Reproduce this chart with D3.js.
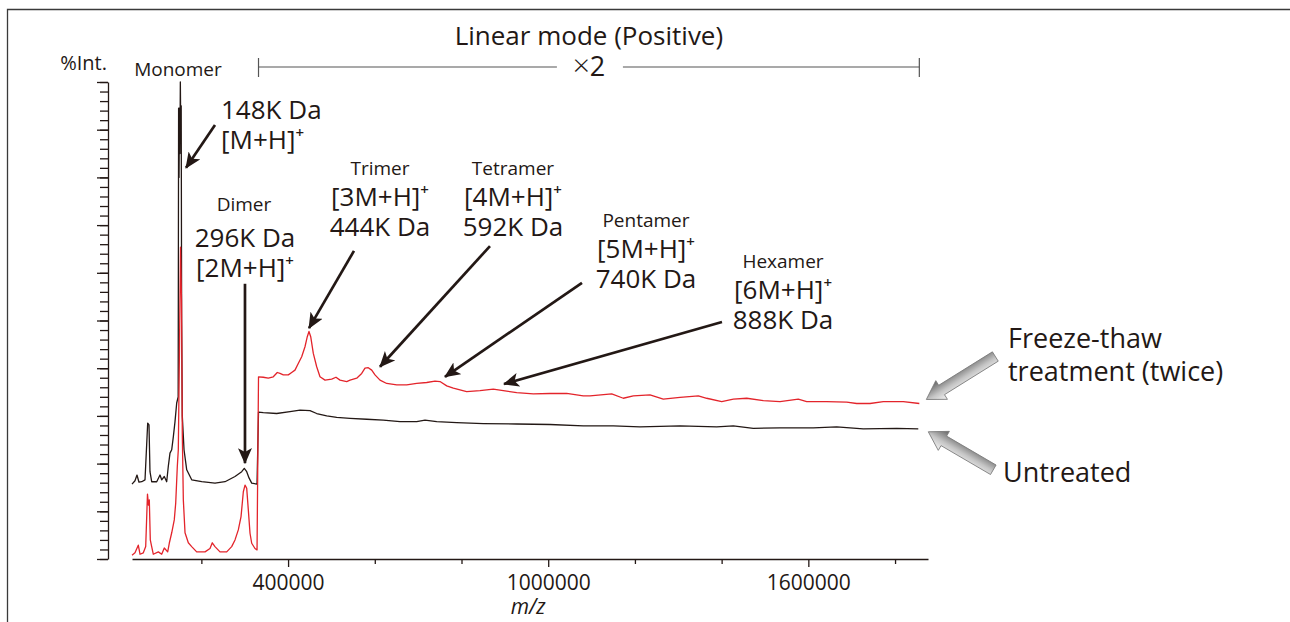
<!DOCTYPE html>
<html lang="en">
<head>
<meta charset="UTF-8">
<title>Linear mode spectrum - freeze-thaw aggregates</title>
<script src="https://cdn.jsdelivr.net/npm/d3@7"></script>
<style>
  body { margin: 0; background: #fff; }
  svg text { font-family: "Open Sans", "Noto Sans", sans-serif; fill: #231815; }
</style>
</head>
<body>
<svg id="chart" width="1290" height="622"></svg>
<script>
// spectra: [m/z, %Int.]  (region after the step is shown x2)
const untreated = [
  [40000,15.7],[46900,16.4],[51500,17.6],[56100,16.1],[62400,16.2],[70000,16.6],[76200,28.5],[79200,28.1],
  [81500,18.3],[85400,16.2],[97000,16.2],[104600,17.6],[108500,16.6],[114500,17.3],[120000,16.2],[123700,19.4],
  [127600,22.2],[131600,22.9],[135300,25.6],[139200,28.8],[143100,32.7],[146500,34.0],[147500,94.5],[148500,80.0],
  [149500,94.5],[150500,85.0],[151500,100],[152500,90.0],[153500,95.0],[154500,50.0],[156000,30.0],
  [160000,22.9],[166200,18.7],[177700,16.6],[200800,16.2],[231400,15.9],[254500,16.2],
  [277600,17.3],[293000,18.3],[299000,19.0],[304600,18.3],[309900,17.0],[316100,15.9],[328400,15.7],[331800,30.8],
  [342800,30.7],[373700,30.5],[404400,30.9],[427500,31.2],[450600,31.1],[466000,30.5],[489100,30.0],[512200,29.7],
  [542900,29.5],[581400,29.3],[619600,29.1],[658100,28.8],[696700,28.8],[715800,29.1],[742800,28.8],[788900,28.6],
  [850300,28.4],[927300,28.3],[1004100,28.2],[1080900,27.9],[1150100,27.9],[1211700,27.7],[1304000,27.9],
  [1388600,27.7],[1426900,27.9],[1473000,27.4],[1534600,27.5],[1611400,27.5],[1665400,27.7],[1726700,27.3],
  [1803800,27.4],[1853600,27.3]
];
const freezeThaw = [
  [40000,0.8],[46900,1.3],[54500,2.9],[58500,1.0],[66100,1.3],[71600,2.6],[75700,13.6],[78000,11.3],[79900,12.4],
  [82200,4.0],[85400,2.6],[89100,1.0],[100700,1.5],[108500,1.0],[114500,2.3],[122300,1.5],[126000,3.3],[131600,5.5],
  [137500,8.2],[140800,11.7],[144500,19.4],[146800,22.9],[149500,43.8],[151900,65.4],[154200,54.3],[156000,26.4],
  [158400,12.4],[162300,5.5],[169900,3.4],[177700,2.6],[189200,1.5],[208400,1.5],[219900,2.2],[225200,3.4],
  [231400,2.6],[243000,1.5],[258400,1.5],[269900,2.6],[277600,4.0],[285200,6.1],[291500,8.9],[296800,14.1],
  [300700,15.5],[304600,14.8],[308300,10.3],[312200,5.4],[316100,3.3],[323700,2.2],[328400,1.9],[331800,38.2],
  [342800,38.1],[354400,37.9],[365900,38.2],[375100,39.1],[381300,38.9],[389000,38.6],[400500,38.6],[408300,39.1],
  [415900,39.6],[423500,41.0],[431400,42.4],[439000,44.5],[444300,46.6],[448200,47.7],[452200,46.6],[458200,43.1],
  [466000,40.3],[473600,38.2],[485200,37.5],[500600,37.7],[510500,38.1],[519800,37.5],[535200,37.2],[542900,37.5],
  [558300,37.9],[569800,38.9],[577400,40.0],[585000,40.1],[592900,39.6],[600500,38.6],[612000,37.5],[627500,36.8],
  [650600,36.5],[673600,36.5],[696700,36.8],[719700,37.0],[738900,37.3],[750400,37.2],[765900,36.3],[781100,35.8],
  [811900,35.1],[842600,35.3],[873300,35.6],[896400,35.3],[927300,34.9],[965600,34.6],[1004100,34.7],[1042600,34.7],
  [1080900,34.2],[1096400,34.2],[1146500,34.6],[1173200,33.7],[1196300,34.2],[1234800,34.4],[1265400,33.5],
  [1304000,33.9],[1346200,34.2],[1365600,33.7],[1400200,33.0],[1427000,33.5],[1457900,33.7],[1496200,33.2],
  [1534600,33.0],[1576800,33.5],[1596200,33.0],[1642400,33.0],[1688500,32.9],[1711600,32.6],[1742300,32.6],
  [1773000,33.0],[1819100,33.0],[1856000,32.6]
];

// peak annotations: label anchor (m/z, %Int. of first baseline), arrow tail and tip
const peakNames = ["Monomer", "Dimer", "Trimer", "Tetramer", "Pentamer", "Hexamer"];
const peakLines = [
  [["148K Da"], ["[M+H]", "+"]],
  [["296K Da"], ["[2M+H]", "+"]],
  [["[3M+H]", "+"], ["444K Da"]],
  [["[4M+H]", "+"], ["592K Da"]],
  [["[5M+H]", "+"], ["740K Da"]],
  [["[6M+H]", "+"], ["888K Da"]]
];
const peakNameAt = [[146100,101.3],[298300,73.0],[612000,80.5],[918800,80.5],[1225500,69.6],[1541600,61.0]];
const peakTextAt = [[245300,92.2],[300600,65.4],[612000,74.0],[918800,74.0],[1225500,63.1],[1541600,54.5]];
const arrowTail = [[231400,91.0],[300600,57.7],[552000,64.6],[865700,65.6],[1077900,57.9],[1400800,49.7]];
const arrowTip  = [[164600,82.0],[300600,20.1],[448300,48.4],[612000,40.3],[761900,38.2],[898000,36.7]];

const xMinor = [200000, 600000, 800000, 1200000, 1400000, 1800000];
const xMajor = [400000, 1000000, 1600000];
const yMinor = d3.range(0, 101, 2);
const yMajor = d3.range(0, 101, 10);

const ink = "#231815", red = "#e3242b";
const svg = d3.select("#chart");

const x = d3.scaleLinear().domain([40000, 1876000]).range([132, 928]);
const y = d3.scaleLinear().domain([0, 100]).range([559, 82]);

// outer frame (open to the right and bottom)
svg.append("path").attr("d", "M1290,9.5H7.5V622").attr("fill", "none").attr("stroke", "#3a3a3a").attr("stroke-width", 1.3);

// y axis: ticks only, no labels
svg.append("g").attr("transform", "translate(108,0)")
  .call(d3.axisLeft(y).tickValues(yMinor).tickSize(8).tickSizeOuter(0).tickFormat(""));
const yAxisMajor = svg.append("g").attr("transform", "translate(108,0)")
  .call(d3.axisLeft(y).tickValues(yMajor).tickSize(11).tickSizeOuter(0).tickFormat(""));
yAxisMajor.select(".domain").remove();

// x axis
svg.append("g").attr("transform", "translate(0,559)")
  .call(d3.axisBottom(x).tickValues(xMinor).tickSize(5).tickSizeOuter(0).tickFormat(""));
const xAxisMajor = svg.append("g").attr("transform", "translate(0,559)")
  .call(d3.axisBottom(x).tickValues(xMajor).tickSize(8).tickSizeOuter(0).tickPadding(8).tickFormat(d3.format("d")));
xAxisMajor.select(".domain").remove();
svg.selectAll(".domain, .tick line").attr("stroke", ink).attr("stroke-width", 1.3);
xAxisMajor.selectAll("text").attr("font-size", 21).attr("fill", ink);

svg.append("text").attr("x", x(1000000) - 20).attr("y", 614).attr("text-anchor", "middle")
  .attr("font-size", 21).attr("font-style", "italic").text("m/z");
svg.append("text").attr("x", 107).attr("y", 70).attr("text-anchor", "end")
  .attr("font-size", 20).text("%Int.");

// spectra
const line = d3.line().x(d => x(d[0])).y(d => y(d[1]));
svg.append("path").datum(untreated).attr("d", line).attr("fill", "none")
  .attr("stroke", ink).attr("stroke-width", 1.3).attr("stroke-linejoin", "round");
svg.append("path").datum(freezeThaw).attr("d", line).attr("fill", "none")
  .attr("stroke", red).attr("stroke-width", 1.3).attr("stroke-linejoin", "round");

// x2 bracket over the high-mass region
const stepMz = 331800, endMz = freezeThaw[freezeThaw.length - 1][0];
const bx0 = x(stepMz), bx1 = x(endMz), by = 67, bmid = (bx0 + bx1) / 2;
const bracket = svg.append("g").attr("stroke", "#555").attr("stroke-width", 1.2);
bracket.append("line").attr("x1", bx0).attr("x2", bmid - 32).attr("y1", by).attr("y2", by);
bracket.append("line").attr("x1", bmid + 34).attr("x2", bx1).attr("y1", by).attr("y2", by);
bracket.append("line").attr("x1", bx0).attr("x2", bx0).attr("y1", by - 9).attr("y2", by + 10);
bracket.append("line").attr("x1", bx1).attr("x2", bx1).attr("y1", by - 9).attr("y2", by + 10);
const times = svg.append("text").attr("x", bmid).attr("y", by + 9).attr("text-anchor", "middle").attr("font-size", 27);
times.append("tspan").attr("font-size", 30).attr("font-weight", 300).text("\u00d7");
times.append("tspan").text("2");
svg.append("text").attr("x", bmid).attr("y", 45).attr("text-anchor", "middle")
  .attr("font-size", 26).text("Linear mode (Positive)");

// annotation arrows
svg.append("defs").append("marker").attr("id", "head")
  .attr("viewBox", "0 -7 16 14").attr("refX", 15).attr("refY", 0)
  .attr("markerWidth", 16).attr("markerHeight", 14).attr("markerUnits", "userSpaceOnUse")
  .attr("orient", "auto")
  .append("path").attr("d", "M0,-7L16,0L0,7L4,0Z").attr("fill", ink);

peakNames.forEach((name, i) => {
  svg.append("line")
    .attr("x1", x(arrowTail[i][0])).attr("y1", y(arrowTail[i][1]))
    .attr("x2", x(arrowTip[i][0])).attr("y2", y(arrowTip[i][1]))
    .attr("stroke", ink).attr("stroke-width", 2.7).attr("marker-end", "url(#head)");

  svg.append("text").attr("x", x(peakNameAt[i][0])).attr("y", y(peakNameAt[i][1]))
    .attr("text-anchor", "middle").attr("font-size", 19).attr("fill", "#333")
    .text(name);

  peakLines[i].forEach((ln, k) => {
    const t = svg.append("text").attr("x", x(peakTextAt[i][0])).attr("y", y(peakTextAt[i][1]) + k * 30)
      .attr("text-anchor", i === 0 ? "start" : "middle").attr("font-size", 26);
    t.append("tspan").text(ln[0]);
    if (ln[1]) t.append("tspan").attr("dy", -11).attr("font-size", 15).attr("font-weight", 600).text(ln[1]);
  });
});

// grey 3-D arrows pointing at the two traces
const grad = svg.select("defs").append("linearGradient").attr("id", "metal")
  .attr("x1", 0).attr("y1", 0).attr("x2", 0).attr("y2", 1);
grad.append("stop").attr("offset", "0%").attr("stop-color", "#f4f4f4");
grad.append("stop").attr("offset", "45%").attr("stop-color", "#c4c4c4");
grad.append("stop").attr("offset", "100%").attr("stop-color", "#626262");

function greyArrow(x0, y0, x1, y1) {
  const len = Math.hypot(x1 - x0, y1 - y0), ang = Math.atan2(y1 - y0, x1 - x0) * 180 / Math.PI;
  const hl = 18, sw = 5.5, hw = 11;
  const pts = [[0, -sw], [len - hl, -sw], [len - hl, -hw], [len, 0], [len - hl, hw], [len - hl, sw], [0, sw]];
  svg.append("path").attr("d", "M" + pts.join("L") + "Z")
    .attr("transform", `translate(${x0},${y0}) rotate(${ang})`)
    .attr("fill", "url(#metal)").attr("stroke", "#7a7a7a").attr("stroke-width", 0.8);
}
const lastT = freezeThaw[freezeThaw.length - 1], lastU = untreated[untreated.length - 1];
greyArrow(x(lastT[0]) + 76, y(lastT[1]) - 47, x(lastT[0]) + 7, y(lastT[1]) - 4);
greyArrow(x(lastU[0]) + 75, y(lastU[1]) + 41, x(lastU[0]) + 10, y(lastU[1]) + 3);

svg.append("text").attr("x", 1008).attr("y", 348).attr("font-size", 27).text("Freeze-thaw");
svg.append("text").attr("x", 1008).attr("y", 381).attr("font-size", 27).text("treatment (twice)");
svg.append("text").attr("x", 1003).attr("y", 482).attr("font-size", 27).text("Untreated");
</script>
</body>
</html>
